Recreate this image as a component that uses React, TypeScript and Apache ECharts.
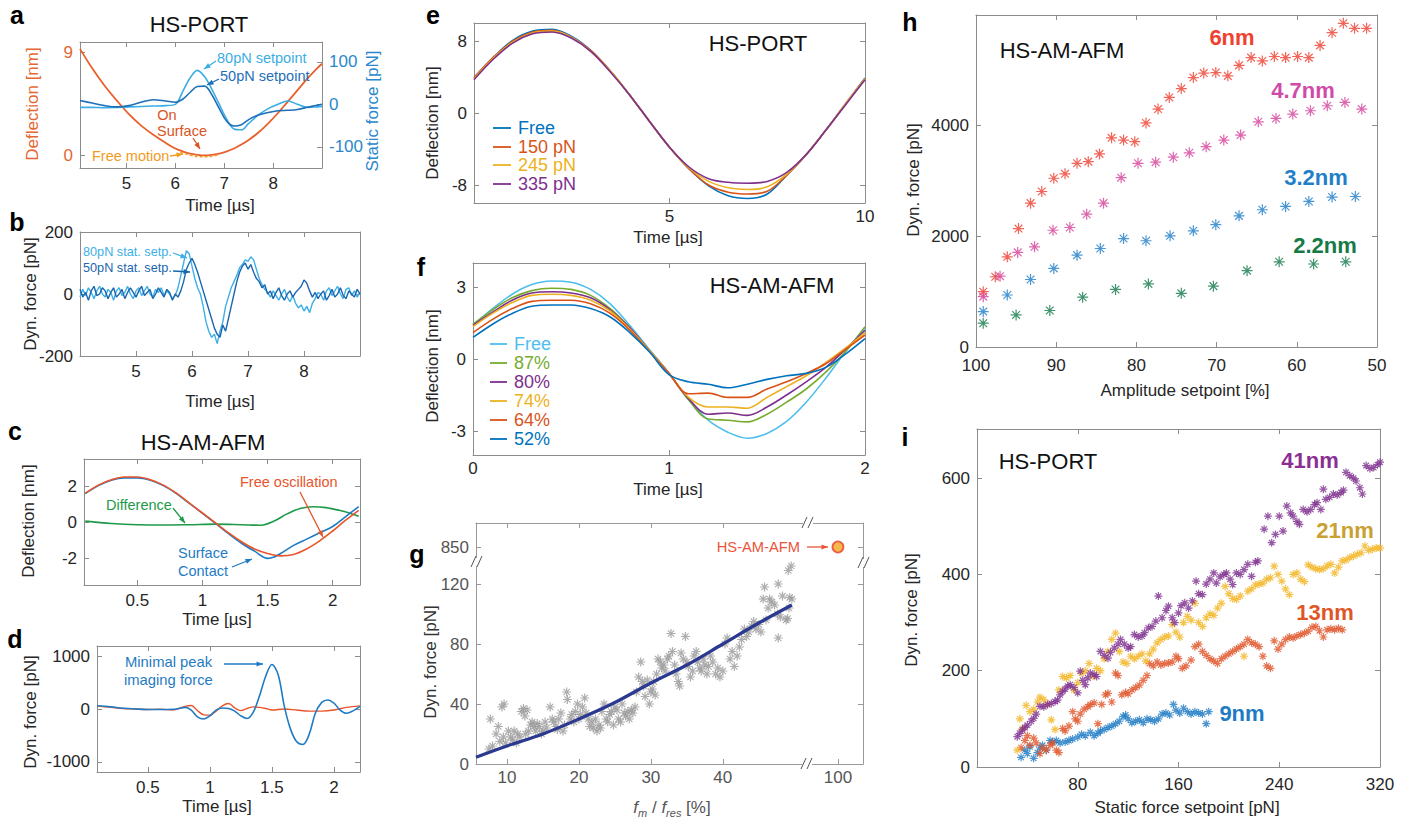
import React, { useEffect, useRef } from "react";
import * as echarts from "echarts";

const FONT = '"Liberation Sans", Arial, Helvetica, sans-serif';
const BOX = "#8c8c8c";
const INK = "#262626";
const STAR = "path://M5 0L5 10M0 5L10 5M1.5 1.5L8.5 8.5M1.5 8.5L8.5 1.5";

// ---------- panel a ----------
const A_T = [4.05, 4.3, 4.55, 4.8, 5.05, 5.3, 5.55, 5.8, 6.0, 6.15, 6.3, 6.45, 6.6, 6.75, 6.9, 7.05, 7.2, 7.35, 7.5, 7.7, 7.9, 8.1, 8.3, 8.5, 8.7, 8.9, 9.0];
const A_DEFL = [9.3, 7.6, 6.1, 4.8, 3.6, 2.6, 1.8, 1.1, 0.6, 0.35, 0.15, 0.05, 0.0, 0.05, 0.15, 0.35, 0.6, 0.95, 1.35, 2.0, 2.8, 3.7, 4.7, 5.7, 6.7, 7.6, 8.0];
const A_80 = [-7, -7, -8, -7, -6, -5, -4, -3, 0, 30, 62, 80, 65, 35, 0, -35, -58, -60, -45, -25, -10, 0, 8, 0, -7, -6, -5];
const A_50 = [9, 3, -3, -6, -3, 5, 11, 8, 5, 12, 28, 42, 43, 22, -10, -40, -51, -48, -36, -25, -19, -15, -14, -12, -7, -2, 0];
const A_FREE_T = [6.1, 6.3, 6.5, 6.7, 6.9];
const A_FREE = [0.3, 0.02, -0.12, -0.1, 0.08];

// ---------- panel b ----------
const B_T = [4, 4.05, 4.1, 4.15, 4.2, 4.25, 4.3, 4.35, 4.4, 4.45, 4.5, 4.55, 4.6, 4.65, 4.7, 4.75, 4.8, 4.85, 4.9, 4.95, 5, 5.05, 5.1, 5.15, 5.2, 5.25, 5.3, 5.35, 5.4, 5.45, 5.5, 5.55, 5.6, 5.65, 5.7, 5.75, 5.8, 5.85, 5.9, 5.95, 6, 6.05, 6.1, 6.15, 6.2, 6.25, 6.3, 6.35, 6.4, 6.45, 6.5, 6.55, 6.6, 6.65, 6.7, 6.75, 6.8, 6.85, 6.9, 6.95, 7, 7.05, 7.1, 7.15, 7.2, 7.25, 7.3, 7.35, 7.4, 7.45, 7.5, 7.55, 7.6, 7.65, 7.7, 7.75, 7.8, 7.85, 7.9, 7.95, 8, 8.05, 8.1, 8.15, 8.2, 8.25, 8.3, 8.35, 8.4, 8.45, 8.5, 8.55, 8.6, 8.65, 8.7, 8.75, 8.8, 8.85, 8.9, 8.95, 9];
const B_80 = [
  -10, 15, -5, 20, 5, -15, 10, 25, 0, -10,
  15, 5, -20, 10, 20, -5, 5, 25, 0, -15,
  10, 20, -5, 10, 25, 0, -10, 15, 5, 20,
  -5, 10, 0, -15, -5, 20, 60, 100, 140, 130,
  90, 50, 20, 0, -40, -90, -120, -140, -130, -160,
  -120, -90, -40, -10, 20, 40, 60, 85, 95, 110,
  105, 120, 110, 80, 50, 30, 15, 5, -10, 10,
  -5, -20, 0, 15, -10, -25, -5, -30, -45, -35,
  -55, -40, -60, -30, -15, 5, 0, -20, 10, 20,
  -5, 10, 25, 0, -15, 15, 20, -5, 10, -10,
  5,
];
const B_50 = [
  15, -10, 5, -20, 10, 25, -5, 0, 20, 10,
  -15, 5, 20, -10, 0, 15, -15, 5, 20, 5,
  -10, 10, 25, -5, 5, 15, -15, 0, 20, 5,
  -10, 15, 5, -20, 0, -10, 10, 40, 80, 100,
  115, 95, 70, 40, 10, -20, -50, -80, -110, -130,
  -140, -100, -120, -80, -40, 0, 40, 70, 90, 100,
  80, 95, 70, 50, 40, 20, 30, 0, 10, -15,
  5, 20, -5, -20, 0, 10, -10, 5, 15, 25,
  45, 35, 10, -10, 5, -15, 0, 10, -20, -5,
  15, -10, 0, 20, -5, -15, 10, 0, -10, 15,
  0,
];

// ---------- panel c ----------
const C_FREE = [[0.1, 1.6], [0.2, 2.05], [0.3, 2.35], [0.4, 2.5], [0.5, 2.5], [0.6, 2.35], [0.7, 2.05], [0.8, 1.6], [0.9, 1.05], [1.0, 0.5], [1.1, -0.05], [1.2, -0.6], [1.3, -1.1], [1.4, -1.5], [1.5, -1.75], [1.6, -1.88], [1.7, -1.8], [1.8, -1.5], [1.9, -1.05], [2.0, -0.5], [2.1, 0.1], [2.2, 0.65]];
const C_SURF = [[0.1, 1.58], [0.2, 2.02], [0.3, 2.32], [0.4, 2.45], [0.5, 2.45], [0.6, 2.32], [0.7, 2.02], [0.8, 1.58], [0.9, 1.03], [1.0, 0.48], [1.1, -0.08], [1.2, -0.65], [1.3, -1.18], [1.4, -1.62], [1.5, -2.02], [1.55, -1.95], [1.6, -1.75], [1.7, -1.3], [1.8, -0.95], [1.9, -0.6], [2.0, -0.25], [2.1, 0.3], [2.2, 0.85]];
const C_DIFF = [[0.1, 0.05], [0.3, -0.08], [0.5, -0.15], [0.7, -0.17], [0.9, -0.15], [1.1, -0.12], [1.3, -0.15], [1.45, -0.18], [1.55, 0.05], [1.65, 0.45], [1.75, 0.75], [1.85, 0.85], [1.95, 0.8], [2.05, 0.65], [2.15, 0.45], [2.2, 0.32]];

// ---------- panel d ----------
const D_BLUE = [[0.09, 60], [0.2, 40], [0.3, 15], [0.4, 0], [0.5, -10], [0.6, -10], [0.7, -5], [0.75, 10], [0.8, 30], [0.85, -20], [0.9, -150], [0.95, -190], [1.0, -130], [1.05, -20], [1.1, 20], [1.15, 10], [1.2, -40], [1.25, -130], [1.3, -180], [1.35, -60], [1.4, 250], [1.45, 620], [1.5, 840], [1.55, 650], [1.6, 50], [1.65, -380], [1.7, -620], [1.75, -670], [1.8, -480], [1.85, -80], [1.9, 120], [1.95, 170], [2.0, 110], [2.05, -20], [2.1, -80], [2.15, -40], [2.21, 50]];
const D_ORANGE = [[0.09, 60], [0.2, 30], [0.3, 10], [0.4, 0], [0.5, -10], [0.6, -5], [0.7, -20], [0.75, 10], [0.8, 50], [0.85, 65], [0.9, -30], [0.95, -110], [1.0, -115], [1.05, -40], [1.1, 60], [1.15, 105], [1.2, 20], [1.25, -30], [1.3, 10], [1.35, 40], [1.4, 30], [1.45, 10], [1.5, -20], [1.6, 0], [1.7, -20], [1.8, -40], [1.9, -40], [2.0, -20], [2.1, 30], [2.21, 60]];

// ---------- panel e ----------
const E_T = [0, 0.5, 1, 1.5, 2, 2.5, 3, 3.5, 4, 4.5, 5, 5.5, 6, 6.5, 7, 7.5, 8, 8.5, 9, 9.5, 10];
const E_FREE = [3.9, 6.2, 8.1, 9.1, 9.3, 8.5, 6.9, 4.6, 1.9, -1.0, -3.8, -6.2, -8.1, -9.2, -9.5, -9.0, -6.9, -4.6, -1.9, 1.0, 3.9];
const E_150 = [3.9, 6.2, 8.0, 9.0, 9.2, 8.4, 6.9, 4.6, 1.9, -1.0, -3.8, -6.2, -8.0, -8.8, -9.0, -8.7, -6.9, -4.6, -1.9, 1.0, 3.8];
const E_245 = [3.8, 6.1, 7.9, 8.9, 9.1, 8.4, 6.8, 4.6, 1.9, -1.0, -3.8, -6.1, -7.6, -8.3, -8.5, -8.2, -6.8, -4.6, -1.9, 1.0, 3.8];
const E_335 = [3.7, 6.0, 7.8, 8.8, 9.0, 8.3, 6.8, 4.5, 1.9, -1.0, -3.8, -6.0, -7.3, -7.7, -7.8, -7.6, -6.6, -4.6, -1.9, 0.9, 3.7];
const E_NAMES = ["Free", "150 pN", "245 pN", "335 pN"];

// ---------- panel f ----------
const F_T = [0, 0.1, 0.2, 0.3, 0.4, 0.5, 0.6, 0.7, 0.8, 0.9, 1.0, 1.1, 1.2, 1.3, 1.4, 1.5, 1.6, 1.7, 1.8, 1.9, 2.0];
const F_FREE = [1.4, 2.1, 2.7, 3.1, 3.25, 3.2, 2.9, 2.3, 1.4, 0.4, -0.6, -1.7, -2.55, -3.05, -3.3, -3.1, -2.6, -1.8, -0.8, 0.3, 1.3];
const F_87 = [1.45, 2.05, 2.55, 2.85, 2.95, 2.9, 2.65, 2.1, 1.3, 0.35, -0.6, -1.7, -2.5, -2.55, -2.62, -2.3, -1.8, -1.25, -0.55, 0.3, 1.35];
const F_80 = [1.4, 1.95, 2.45, 2.75, 2.8, 2.75, 2.55, 2.05, 1.3, 0.35, -0.6, -1.65, -2.3, -2.25, -2.35, -2.0, -1.5, -0.95, -0.35, 0.4, 1.2];
const F_74 = [1.35, 1.9, 2.35, 2.65, 2.7, 2.65, 2.45, 2.0, 1.25, 0.35, -0.6, -1.6, -2.0, -2.0, -2.05, -1.6, -1.15, -0.7, -0.15, 0.45, 1.1];
const F_64 = [1.1, 1.65, 2.1, 2.4, 2.45, 2.45, 2.3, 1.9, 1.2, 0.3, -0.6, -1.45, -1.42, -1.6, -1.6, -1.25, -0.95, -0.6, -0.2, 0.4, 1.0];
const F_52 = [0.9, 1.45, 1.9, 2.2, 2.25, 2.25, 2.1, 1.75, 1.1, 0.3, -0.65, -0.95, -1.05, -1.2, -1.05, -0.85, -0.7, -0.6, -0.35, 0.2, 0.85];
const F_NAMES = ["Free", "87%", "80%", "74%", "64%", "52%"];

// ---------- panel g ----------
const G_SCATTER = [
  [7.5, 10], [8, 12], [7.7, 30], [8.5, 20], [8.8, 25], [9, 15], [9.5, 18], [9.3, 38], [9.6, 40], [9.8, 14], [10.2, 22], [10.5, 18], [10.8, 16], [11, 22], [11.3, 14], [11.5, 20], [11.8, 18],
  [12, 35], [12.3, 37], [12.5, 32], [12.8, 36], [12.6, 20], [13, 22], [13.3, 26], [13.5, 28], [13.8, 25], [14, 22], [14.2, 27], [14.5, 25], [14.8, 20], [15, 22], [15.3, 28], [15.5, 24], [16, 38], [16.3, 30], [16.5, 28], [16.8, 25], [17, 23], [17.2, 30], [17.5, 34], [17.8, 22], [18, 26],
  [18.3, 48], [18.4, 43], [18.8, 30], [19, 33], [19.3, 28], [19.5, 35], [19.8, 40], [20, 30], [20.2, 33], [20.5, 38], [20.8, 44], [21, 34], [21.3, 30], [21.5, 25], [21.8, 28], [22, 24], [22.3, 30], [22.5, 22], [22.8, 26], [23, 24],
  [23.2, 35], [23.5, 40], [23.8, 30], [24, 28], [24.3, 33], [24.5, 35], [24.8, 26], [25, 38], [25.3, 36], [25.5, 30], [25.8, 28], [26, 40], [26.3, 34], [26.5, 32], [26.8, 35], [27, 30], [27.3, 36], [27.5, 34], [27.8, 38],
  [28, 48], [28.3, 58], [28.6, 68], [28.8, 55], [29, 52], [29.2, 45], [29.5, 56], [29.8, 40], [30, 48], [30.2, 50], [30.4, 55], [30.6, 46], [30.8, 60], [31, 70], [31.3, 68], [31.5, 64], [31.8, 66], [32, 62], [32.3, 70], [32.5, 72],
  [32.8, 87], [33, 75], [33.3, 66], [33.5, 60], [33.8, 55], [34, 52], [34.2, 74], [34.5, 70], [34.8, 85], [35, 68], [35.2, 65], [35.5, 58], [35.8, 62], [36, 72], [36.3, 75], [36.5, 68], [36.8, 64], [37, 62], [37.3, 70], [37.5, 66],
  [37.8, 60], [38, 65], [38.3, 72], [38.6, 68], [39, 60], [39.3, 64], [39.6, 58], [40, 62], [40.3, 80], [40.6, 84], [41, 70], [41.3, 75], [41.6, 65], [42, 72], [42.3, 78], [42.6, 83],
  [43, 90], [43.3, 85], [43.6, 88], [44, 92], [44.3, 95], [44.6, 90], [45, 93], [45.3, 88], [45.6, 110], [45.8, 118], [46, 96], [46.3, 104], [46.5, 110], [46.8, 108], [47.2, 106], [47.6, 100], [47.7, 120], [47.7, 84], [48, 98], [48.3, 112], [48.8, 96], [49, 97], [49.1, 129], [49.3, 111], [49.5, 132], [49.6, 110], [49.2, 104],
];
const G_FIT = [[5.7, 4.5], [10, 12], [15, 20], [20, 30], [25, 41], [30, 54], [35, 66], [40, 80], [45, 94], [49.6, 106]];
const G_AM = [[100, 850]];

// ---------- panel h ----------
const H_6 = [[99.1, 1000], [97.6, 1270], [96.1, 1630], [94.7, 2140], [93.2, 2600], [91.8, 2810], [90.3, 3050], [88.9, 3130], [87.4, 3320], [86.0, 3350], [84.6, 3490], [83.1, 3780], [81.6, 3740], [80.2, 3710], [78.8, 4050], [77.3, 4300], [75.9, 4510], [74.4, 4670], [72.9, 4870], [71.6, 4950], [70.1, 4960], [68.6, 4900], [67.2, 5090], [65.7, 5230], [64.3, 5170], [62.8, 5250], [61.4, 5230], [59.9, 5250], [58.5, 5230], [57.1, 5450], [55.6, 5680], [54.2, 5850], [52.8, 5760], [51.3, 5760]];
const H_47 = [[99.1, 910], [97.0, 1280], [94.8, 1710], [92.7, 1810], [90.4, 2110], [88.3, 2160], [86.2, 2400], [84.1, 2600], [81.9, 3060], [79.8, 3320], [77.6, 3340], [75.4, 3430], [73.4, 3510], [71.3, 3620], [69.1, 3740], [67.0, 3830], [64.8, 4070], [62.6, 4130], [60.5, 4210], [58.3, 4270], [56.2, 4360], [54.0, 4420], [51.9, 4300]];
const H_32 = [[99.1, 640], [96.1, 940], [93.2, 1220], [90.3, 1420], [87.4, 1660], [84.5, 1780], [81.6, 1960], [78.8, 1920], [75.8, 2010], [72.9, 2100], [70.1, 2210], [67.2, 2370], [64.3, 2480], [61.4, 2540], [58.5, 2630], [55.6, 2710], [52.7, 2720]];
const H_22 = [[99.1, 430], [95.0, 580], [90.8, 660], [86.7, 900], [82.6, 1040], [78.5, 1140], [74.4, 970], [70.4, 1100], [66.2, 1380], [62.2, 1540], [57.9, 1500], [53.9, 1540]];

// ---------- panel i ----------
const I_9 = [[35, 20], [38, 35], [40, 28], [42, 42], [45, 18], [48, 30], [50, 40], [52, 45], [55, 35], [58, 55], [60, 52], [63, 55], [66, 50], [70, 52], [73, 55], [76, 58], [80, 62], [83, 68], [86, 65], [90, 72], [93, 65], [96, 70], [98, 75], [101, 78], [104, 82], [107, 85], [110, 90], [113, 95], [116, 105], [118, 108], [120, 100], [123, 92], [126, 95], [129, 98], [132, 92], [135, 100], [138, 98], [141, 95], [144, 100], [147, 110], [150, 112], [153, 108], [156, 130], [158, 118], [161, 112], [164, 122], [167, 115], [170, 110], [173, 115], [176, 112], [179, 110], [182, 90], [184, 115]];
const I_13 = [[35, 40], [38, 55], [40, 65], [42, 45], [45, 60], [47, 50], [50, 28], [52, 40], [55, 35], [58, 45], [60, 50], [63, 35], [65, 30], [68, 80], [70, 75], [73, 85], [76, 115], [78, 100], [80, 95], [82, 110], [85, 120], [88, 125], [90, 130], [93, 133], [96, 90], [99, 130], [102, 150], [104, 153], [107, 135], [110, 195], [112, 190], [115, 150], [118, 155], [120, 152], [123, 160], [126, 165], [129, 170], [132, 180], [135, 190], [137, 215], [140, 210], [143, 218], [146, 212], [149, 215], [152, 216], [155, 218], [158, 230], [160, 225], [163, 205], [166, 210], [170, 222], [173, 250], [176, 255], [179, 240], [182, 232], [185, 225], [188, 220], [191, 215], [194, 225], [197, 230], [200, 235], [203, 240], [206, 245], [209, 250], [212, 255], [215, 265], [218, 258], [221, 255], [224, 250], [227, 230], [230, 210], [233, 205], [236, 262], [239, 245], [242, 255], [245, 265], [248, 270], [251, 268], [254, 272], [257, 275], [260, 278], [263, 282], [266, 290], [269, 292], [272, 283], [275, 270], [278, 285], [281, 287], [284, 285], [287, 288], [290, 285]];
const I_21 = [[32, 35], [34, 100], [36, 80], [39, 128], [42, 115], [45, 120], [48, 135], [50, 145], [53, 140], [56, 130], [59, 98], [62, 78], [65, 160], [68, 188], [71, 185], [74, 190], [77, 160], [80, 175], [83, 195], [86, 200], [89, 215], [92, 188], [95, 205], [98, 200], [101, 225], [104, 240], [107, 265], [110, 278], [113, 240], [116, 218], [119, 215], [122, 230], [125, 225], [128, 230], [131, 235], [134, 220], [137, 235], [140, 245], [143, 258], [146, 265], [149, 270], [152, 272], [155, 296], [158, 280], [161, 270], [164, 300], [167, 313], [170, 305], [173, 340], [176, 300], [179, 292], [182, 310], [185, 318], [188, 315], [191, 330], [194, 340], [197, 375], [200, 360], [203, 350], [206, 348], [209, 355], [212, 230], [215, 365], [218, 370], [221, 378], [224, 380], [227, 382], [230, 390], [233, 393], [236, 417], [239, 400], [242, 386], [245, 370], [248, 358], [251, 400], [254, 403], [257, 390], [260, 385], [263, 420], [266, 415], [269, 412], [272, 410], [275, 412], [278, 418], [281, 421], [284, 403], [287, 415], [290, 428], [293, 430], [296, 435], [299, 438], [302, 442], [305, 445], [308, 459], [311, 450], [314, 452], [317, 455], [320, 455]];
const I_41 = [[32, 63], [34, 70], [36, 77], [38, 82], [40, 87], [43, 95], [45, 101], [47, 110], [50, 126], [53, 125], [56, 130], [59, 132], [62, 136], [64, 139], [66, 150], [68, 157], [70, 162], [72, 168], [74, 171], [77, 165], [80, 154], [82, 199], [84, 180], [86, 171], [88, 185], [90, 195], [93, 192], [95, 188], [98, 240], [101, 232], [104, 226], [106, 238], [109, 247], [112, 255], [114, 265], [117, 255], [120, 247], [122, 250], [125, 275], [128, 270], [131, 272], [133, 279], [136, 289], [139, 292], [142, 303], [144, 355], [147, 310], [150, 325], [152, 334], [155, 310], [157, 300], [160, 320], [162, 335], [165, 341], [168, 330], [171, 345], [174, 386], [176, 360], [179, 358], [182, 380], [185, 390], [188, 403], [190, 382], [193, 395], [196, 400], [198, 403], [201, 390], [203, 379], [206, 403], [209, 400], [212, 410], [215, 421], [218, 396], [221, 425], [223, 428], [228, 494], [231, 521], [234, 466], [237, 483], [240, 521], [243, 490], [246, 542], [249, 528], [251, 521], [254, 510], [256, 504], [259, 535], [262, 530], [265, 535], [268, 545], [270, 549], [273, 535], [275, 577], [277, 556], [280, 560], [283, 567], [286, 565], [289, 570], [291, 575], [293, 612], [296, 605], [299, 600], [301, 594], [304, 580], [306, 567], [309, 626], [312, 620], [315, 622], [318, 628], [320, 633]];

// colours
const M_BLUE = "#0072BD", M_ORANGE = "#D95319", M_YELLOW = "#EDB120", M_PURPLE = "#7E2F8E", M_GREEN = "#77AC30", M_CYAN = "#4DBEEE";
const E_COLORS = [M_BLUE, M_ORANGE, M_YELLOW, M_PURPLE];
const F_COLORS = [M_CYAN, M_GREEN, M_PURPLE, M_YELLOW, M_ORANGE, M_BLUE];

function zip(xs: number[], ys: number[]) {
  return xs.map((x, i) => [x, ys[i]]);
}

function axis(grid: number, pos: string, min: number, max: number, ticks: number[], o: any = {}) {
  return {
    type: "value",
    gridIndex: grid,
    position: pos,
    min,
    max,
    offset: o.offset || 0,
    inverse: !!o.inverse,
    axisLine: { show: true, onZero: false, lineStyle: { color: o.line || BOX, width: 1 } },
    axisTick: { show: ticks.length > 0, inside: true, length: 5, customValues: ticks, lineStyle: { color: o.line || BOX, width: 1 } },
    axisLabel: {
      show: !!o.labels,
      customValues: ticks,
      color: o.color || INK,
      fontSize: o.fs || 17,
      fontFamily: FONT,
      margin: o.margin ?? 7,
      showMinLabel: true,
      showMaxLabel: true,
      hideOverlap: false,
      formatter: (v: number) => String(v),
    },
    splitLine: { show: false },
  };
}

function txt(x: number, y: number, text: string, o: any = {}) {
  const align = o.align || "center";
  return {
    type: "text",
    x,
    y,
    rotation: o.rot || 0,
    z: 100,
    style: {
      text,
      fill: o.color || INK,
      fontSize: o.fs || 17,
      fontFamily: FONT,
      fontWeight: o.bold ? "bold" : "normal",
      align,
      textAlign: align,
      verticalAlign: "middle",
      textVerticalAlign: "middle",
    },
  };
}

function arrow(x1: number, y1: number, x2: number, y2: number, color: string) {
  const ang = Math.atan2(y2 - y1, x2 - x1);
  const h = 7;
  const p1 = [x2 - h * Math.cos(ang - 0.38), y2 - h * Math.sin(ang - 0.38)];
  const p2 = [x2 - h * Math.cos(ang + 0.38), y2 - h * Math.sin(ang + 0.38)];
  return [
    { type: "line", z: 100, shape: { x1, y1, x2, y2 }, style: { stroke: color, lineWidth: 1.3 } },
    { type: "polygon", z: 100, shape: { points: [[x2, y2], p1, p2] }, style: { fill: color } },
  ];
}

function brk(cx: number, cy: number) {
  return [
    { type: "rect", z: 90, shape: { x: cx - 5, y: cy - 4, width: 10, height: 8 }, style: { fill: "#fff" } },
    { type: "line", z: 100, shape: { x1: cx - 6, y1: cy + 5, x2: cx - 1, y2: cy - 6 }, style: { stroke: "#555", lineWidth: 1 } },
    { type: "line", z: 100, shape: { x1: cx, y1: cy + 5, x2: cx + 5, y2: cy - 6 }, style: { stroke: "#555", lineWidth: 1 } },
  ];
}

function lineS(xi: number, yi: number, data: any[], color: string, o: any = {}) {
  return {
    type: "line",
    xAxisIndex: xi,
    yAxisIndex: yi,
    data,
    symbol: "none",
    smooth: o.smooth ?? 0.35,
    color,
    lineStyle: { color, width: o.width || 1.6, type: o.dash || "solid" },
    z: o.z || 2,
  };
}

function starS(xi: number, yi: number, data: any[], color: string, size: number) {
  return {
    type: "scatter",
    xAxisIndex: xi,
    yAxisIndex: yi,
    data,
    symbol: STAR,
    symbolSize: size,
    color,
    itemStyle: { color: "rgba(0,0,0,0)", borderColor: color, borderWidth: 1.2 },
  };
}

function buildOption() {
  const grid = [
    { left: 80, top: 42, width: 242, height: 126 }, // a 0
    { left: 80, top: 232, width: 280, height: 124 }, // b 1
    { left: 84, top: 459, width: 276, height: 126 }, // c 2
    { left: 97, top: 646, width: 263, height: 126 }, // d 3
    { left: 474, top: 23, width: 391, height: 180 }, // e 4
    { left: 473, top: 263, width: 392, height: 192 }, // f 5
    { left: 476, top: 562, width: 331, height: 202 }, // g main 6
    { left: 807, top: 523, width: 56, height: 39 }, // g corner 7
    { left: 976, top: 15, width: 401, height: 332 }, // h 8
    { left: 977, top: 429, width: 403, height: 338 }, // i 9
  ].map((g) => ({ ...g, show: false }));

  const GB = "#999999", GL = "#555555";
  const xAxis = [
    axis(0, "bottom", 4.05, 9.0, [5, 6, 7, 8], { labels: true }), // 0
    axis(0, "top", 4.05, 9.0, [5, 6, 7, 8]), // 1
    axis(1, "bottom", 4.0, 9.0, [5, 6, 7, 8], { labels: true }), // 2
    axis(1, "top", 4.0, 9.0, [5, 6, 7, 8]), // 3
    axis(2, "bottom", 0.09, 2.21, [0.5, 1, 1.5, 2], { labels: true }), // 4
    axis(2, "top", 0.09, 2.21, [0.5, 1, 1.5, 2]), // 5
    axis(3, "bottom", 0.09, 2.21, [0.5, 1, 1.5, 2], { labels: true }), // 6
    axis(3, "top", 0.09, 2.21, [0.5, 1, 1.5, 2]), // 7
    axis(4, "bottom", 0, 10, [5, 10], { labels: true, margin: 5 }), // 8
    axis(4, "top", 0, 10, [5]), // 9
    axis(5, "bottom", 0, 2, [0, 1, 2], { labels: true, margin: 5 }), // 10
    axis(5, "top", 0, 2, [1]), // 11
    axis(6, "bottom", 5.7, 51.7, [10, 20, 30, 40], { labels: true, line: GB, color: GL, margin: 5 }), // 12
    axis(6, "top", 5.7, 51.7, [10, 20, 30, 40], { offset: 39, line: GB }), // 13
    axis(7, "bottom", 95.7, 103.48, [100], { labels: true, offset: 202, line: GB, color: GL, margin: 5 }), // 14
    axis(7, "top", 95.7, 103.48, [], { line: GB }), // 15
    axis(8, "bottom", 50, 100, [50, 60, 70, 80, 90, 100], { labels: true, inverse: true, margin: 10 }), // 16
    axis(8, "top", 50, 100, [60, 70, 80, 90], { inverse: true }), // 17
    axis(9, "bottom", 0, 320, [80, 160, 240, 320], { labels: true, margin: 9 }), // 18
    axis(9, "top", 0, 320, [80, 160, 240]), // 19
  ];
  const yAxis = [
    axis(0, "left", -1.1, 9.9, [0, 9], { labels: true, color: "#E4682F" }), // 0
    axis(0, "right", -150, 147, [-100, 0, 100], { labels: true, color: "#2A88CC" }), // 1
    axis(1, "left", -200, 200, [-200, 0, 200], { labels: true }), // 2
    axis(1, "right", -200, 200, [0]), // 3
    axis(2, "left", -3.5, 3.5, [-2, 0, 2], { labels: true }), // 4
    axis(2, "right", -3.5, 3.5, [-2, 0, 2]), // 5
    axis(3, "left", -1190, 1190, [-1000, 0, 1000], { labels: true }), // 6
    axis(3, "right", -1190, 1190, [-1000, 0, 1000]), // 7
    axis(4, "left", -10, 10, [-8, 0, 8], { labels: true }), // 8
    axis(4, "right", -10, 10, [-8, 0, 8]), // 9
    axis(5, "left", -4, 4, [-3, 0, 3], { labels: true }), // 10
    axis(5, "right", -4, 4, [-3, 0, 3]), // 11
    axis(6, "left", 0, 134.67, [0, 40, 80, 120], { labels: true, line: GB, color: GL }), // 12
    axis(6, "right", 0, 134.67, [40, 80, 120], { offset: 56, line: GB }), // 13
    axis(7, "left", 840, 866, [850], { labels: true, offset: 331, line: GB, color: GL }), // 14
    axis(7, "right", 840, 866, [850], { line: GB }), // 15
    axis(8, "left", 0, 6000, [0, 2000, 4000], { labels: true }), // 16
    axis(8, "right", 0, 6000, [2000, 4000]), // 17
    axis(9, "left", 0, 702, [0, 200, 400, 600], { labels: true }), // 18
    axis(9, "right", 0, 702, [200, 400, 600]), // 19
  ];

  const series: any[] = [
    // a
    lineS(0, 0, zip(A_T, A_DEFL), "#E8602C", { width: 1.8 }),
    lineS(0, 0, zip(A_FREE_T, A_FREE), "#F5A02A", { dash: [3, 2], width: 1.5 }),
    lineS(0, 1, zip(A_T, A_80), "#3AADE4", { width: 1.6 }),
    lineS(0, 1, zip(A_T, A_50), "#1E6FB8", { width: 1.6 }),
    // b
    lineS(2, 2, zip(B_T, B_80), "#3CB0E6", { smooth: false, width: 1.4 }),
    lineS(2, 2, zip(B_T, B_50), "#1A66AE", { smooth: false, width: 1.4 }),
    // c
    lineS(4, 4, C_DIFF, "#1E9A48"),
    lineS(4, 4, C_SURF, "#1F7BC4"),
    lineS(4, 4, C_FREE, "#E8552A"),
    // d
    lineS(6, 6, D_ORANGE, "#E8552A", { width: 1.4 }),
    lineS(6, 6, D_BLUE, "#1F7BC4"),
    // e
    lineS(8, 8, zip(E_T, E_FREE), E_COLORS[0]),
    lineS(8, 8, zip(E_T, E_150), E_COLORS[1]),
    lineS(8, 8, zip(E_T, E_245), E_COLORS[2]),
    lineS(8, 8, zip(E_T, E_335), E_COLORS[3]),
    // f
    lineS(10, 10, zip(F_T, F_FREE), F_COLORS[0]),
    lineS(10, 10, zip(F_T, F_87), F_COLORS[1]),
    lineS(10, 10, zip(F_T, F_80), F_COLORS[2]),
    lineS(10, 10, zip(F_T, F_74), F_COLORS[3]),
    lineS(10, 10, zip(F_T, F_64), F_COLORS[4]),
    lineS(10, 10, zip(F_T, F_52), F_COLORS[5]),
    // g
    starS(12, 12, G_SCATTER, "#9a9a9a", 9),
    lineS(12, 12, G_FIT, "#2B3990", { width: 3.2, z: 5 }),
    {
      type: "scatter",
      xAxisIndex: 14,
      yAxisIndex: 14,
      data: G_AM,
      symbol: "circle",
      symbolSize: 11,
      itemStyle: { color: "#F6A623", borderColor: "#E53E2B", borderWidth: 1.8 },
    },
    // h
    starS(16, 16, H_6, "#EE3D2F", 11),
    starS(16, 16, H_47, "#D4419B", 11),
    starS(16, 16, H_32, "#1E7DC8", 11),
    starS(16, 16, H_22, "#13794A", 11),
    // i
    starS(18, 18, I_9, "#1E7BC4", 8),
    starS(18, 18, I_13, "#E0552A", 8),
    starS(18, 18, I_21, "#F2B523", 8),
    starS(18, 18, I_41, "#7E2F8E", 8),
  ];

  const R = Math.PI / 2;
  const g: any[] = [
    txt(17, 15, "a", { bold: true, fs: 25, color: "#000" }),
    txt(17, 222, "b", { bold: true, fs: 25, color: "#000" }),
    txt(15, 431, "c", { bold: true, fs: 25, color: "#000" }),
    txt(15, 639, "d", { bold: true, fs: 25, color: "#000" }),
    txt(433, 15, "e", { bold: true, fs: 25, color: "#000" }),
    txt(421, 267, "f", { bold: true, fs: 25, color: "#000" }),
    txt(417, 554, "g", { bold: true, fs: 25, color: "#000" }),
    txt(910, 22, "h", { bold: true, fs: 25, color: "#000" }),
    txt(905, 437, "i", { bold: true, fs: 25, color: "#000" }),
    // a
    txt(199, 24, "HS-PORT", { fs: 22, color: "#111" }),
    txt(32, 104, "Deflection [nm]", { rot: R, color: "#E4682F" }),
    txt(372, 111, "Static force [pN]", { rot: R, color: "#2A88CC" }),
    txt(220, 205, "Time [µs]"),
    txt(217, 58, "80pN setpoint", { align: "left", fs: 14.5, color: "#3AADE4" }),
    txt(220, 76, "50pN setpoint", { align: "left", fs: 14.5, color: "#1E6FB8" }),
    ...arrow(216, 61, 204, 69, "#3AADE4"),
    ...arrow(219, 79, 207, 85, "#1E6FB8"),
    txt(167, 115, "On", { fs: 14.5, color: "#D9541E" }),
    txt(182, 131, "Surface", { fs: 14.5, color: "#D9541E" }),
    ...arrow(193, 138, 200, 149, "#D9541E"),
    txt(92, 156, "Free motion", { align: "left", fs: 14.5, color: "#F39A22" }),
    ...arrow(170, 156, 183, 154, "#F39A22"),
    // b
    txt(30, 294, "Dyn. force [pN]", { rot: R }),
    txt(220, 401, "Time [µs]"),
    txt(83, 252, "80pN stat. setp.", { align: "left", fs: 12.7, color: "#3CB0E6" }),
    txt(83, 268, "50pN stat. setp.", { align: "left", fs: 12.7, color: "#1A66AE" }),
    ...arrow(173, 253, 187, 258, "#3CB0E6"),
    ...arrow(173, 271, 190, 272, "#1A66AE"),
    // c
    txt(203, 442, "HS-AM-AFM", { fs: 22, color: "#111" }),
    txt(28, 521, "Deflection [nm]", { rot: R }),
    txt(217, 619, "Time [µs]"),
    txt(240, 482, "Free oscillation", { align: "left", fs: 14.5, color: "#E8552A" }),
    ...arrow(300, 492, 323, 537, "#E8552A"),
    txt(106, 505, "Difference", { align: "left", fs: 14.5, color: "#1E9A48" }),
    ...arrow(173, 508, 185, 523, "#1E9A48"),
    txt(178, 553, "Surface", { align: "left", fs: 14.5, color: "#1F7BC4" }),
    txt(178, 571, "Contact", { align: "left", fs: 14.5, color: "#1F7BC4" }),
    ...arrow(232, 567, 252, 559, "#1F7BC4"),
    // d
    txt(30, 712, "Dyn. force [pN]", { rot: R }),
    txt(217, 806, "Time [µs]"),
    txt(125, 662, "Minimal peak", { align: "left", fs: 14.8, color: "#1F7BC4" }),
    txt(124, 680, "imaging force", { align: "left", fs: 14.8, color: "#1F7BC4" }),
    ...arrow(224, 664, 263, 664, "#1F7BC4"),
    // e
    txt(758, 43, "HS-PORT", { fs: 22, color: "#111" }),
    txt(432, 123, "Deflection [nm]", { rot: R }),
    txt(668, 237, "Time [µs]"),
    // f
    txt(772, 285, "HS-AM-AFM", { fs: 22, color: "#111" }),
    txt(432, 366, "Deflection [nm]", { rot: R }),
    txt(668, 489, "Time [µs]"),
    // g
    txt(430, 662, "Dyn. force [pN]", { rot: R, color: "#333" }),
    {
      type: "text",
      x: 672,
      y: 807,
      z: 100,
      style: {
        text: "{i|f}{s|m}{n| / }{i|f}{s|res}{n| [%]}",
        align: "center",
        textAlign: "center",
        verticalAlign: "middle",
        textVerticalAlign: "middle",
        fill: "#555",
        fontFamily: FONT,
        fontSize: 17,
        rich: {
          i: { fontStyle: "italic", fontSize: 17, fontFamily: FONT, fill: "#555", lineHeight: 22, verticalAlign: "middle" },
          s: { fontStyle: "italic", fontSize: 11, fontFamily: FONT, fill: "#555", lineHeight: 22, verticalAlign: "bottom" },
          n: { fontSize: 17, fontFamily: FONT, fill: "#555", lineHeight: 22, verticalAlign: "middle" },
        },
      },
    },
    txt(800, 547, "HS-AM-AFM", { align: "right", fs: 14.7, color: "#E8553A" }),
    ...arrow(807, 547, 828, 547, "#E8553A"),
    ...brk(477, 562),
    ...brk(864, 563),
    ...brk(808, 523),
    ...brk(807, 764),
    // h
    txt(1062, 50, "HS-AM-AFM", { fs: 22, color: "#111" }),
    txt(913, 180, "Dyn. force [pN]", { rot: R }),
    txt(1185, 390, "Amplitude setpoint [%]"),
    txt(1232, 37, "6nm", { bold: true, fs: 22, color: "#F0402F" }),
    txt(1303, 90, "4.7nm", { bold: true, fs: 22, color: "#D04BA8" }),
    txt(1316, 177, "3.2nm", { bold: true, fs: 22, color: "#1F7FC9" }),
    txt(1325, 245, "2.2nm", { bold: true, fs: 22, color: "#167A46" }),
    // i
    txt(1048, 461, "HS-PORT", { fs: 22, color: "#111" }),
    txt(911, 610, "Dyn. force [pN]", { rot: R }),
    txt(1187, 807, "Static force setpoint [pN]"),
    txt(1310, 460, "41nm", { bold: true, fs: 22, color: "#8B2F94" }),
    txt(1345, 530, "21nm", { bold: true, fs: 22, color: "#C9A032" }),
    txt(1325, 612, "13nm", { bold: true, fs: 22, color: "#DF5526" }),
    txt(1242, 713, "9nm", { bold: true, fs: 22, color: "#1E7BC4" }),
  ];

  const eRows = [128, 147, 165, 184];
  E_NAMES.forEach((n, k) => {
    g.push({ type: "line", z: 100, shape: { x1: 493, y1: eRows[k], x2: 511, y2: eRows[k] }, style: { stroke: E_COLORS[k], lineWidth: 1.8 } });
    g.push(txt(518, eRows[k], n, { align: "left", fs: 18, color: E_COLORS[k] }));
  });
  const fRows = [344, 363, 382, 401, 420, 439];
  F_NAMES.forEach((n, k) => {
    g.push({ type: "line", z: 100, shape: { x1: 490, y1: fRows[k], x2: 507, y2: fRows[k] }, style: { stroke: F_COLORS[k], lineWidth: 1.8 } });
    g.push(txt(514, fRows[k], n, { align: "left", fs: 18, color: F_COLORS[k] }));
  });

  return {
    animation: false,
    backgroundColor: "#ffffff",
    textStyle: { fontFamily: FONT },
    grid,
    xAxis,
    yAxis,
    series,
    graphic: { elements: g },
  };
}

export default function App() {
  const ref = useRef<HTMLDivElement>(null);
  useEffect(() => {
    if (!ref.current) return;
    const chart = echarts.init(ref.current, undefined, { renderer: "svg" });
    chart.setOption(buildOption() as any);
    return () => chart.dispose();
  }, []);
  return (
    <div
      ref={ref}
      style={{ position: "absolute", left: 0, top: 0, width: 1410, height: 823, background: "#fff" }}
    />
  );
}
